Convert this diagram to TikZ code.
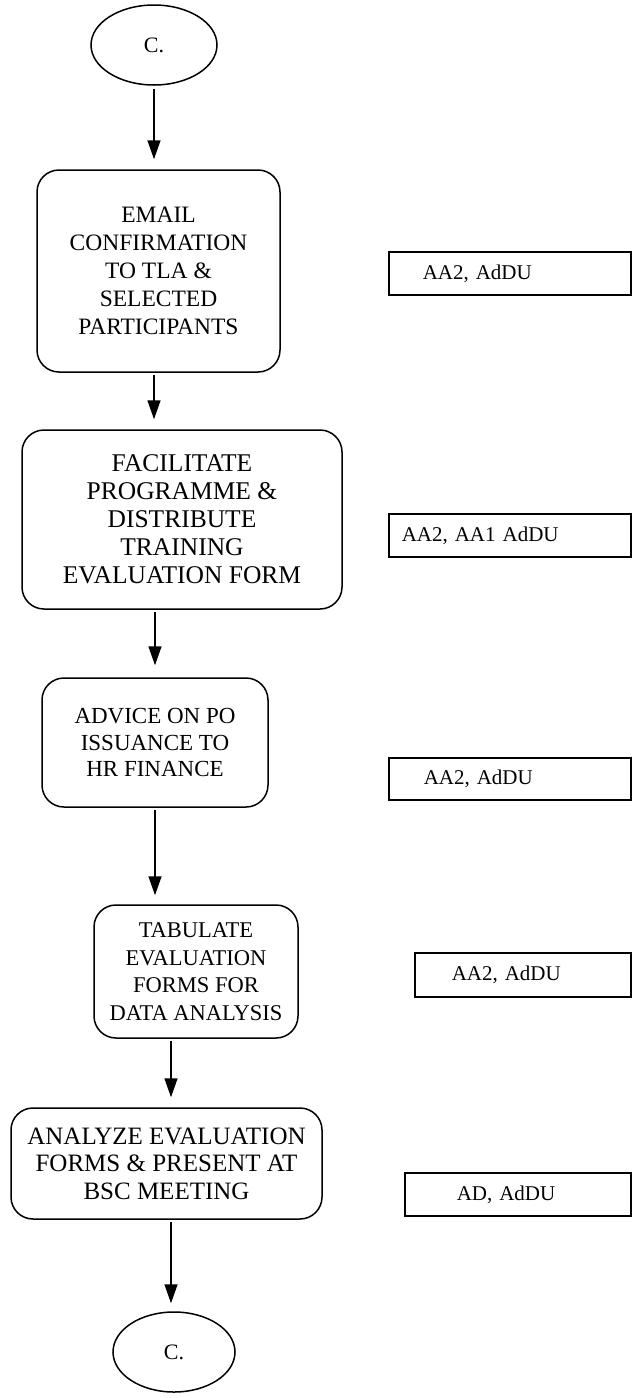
\documentclass[tikz,border=0pt]{standalone}
\usepackage{fontspec}
\setmainfont{Liberation Serif}
\usetikzlibrary{arrows.meta,shapes.geometric}
\newcommand{\fsz}[2]{\fontsize{#1}{#2}\selectfont}
\begin{document}
\begin{tikzpicture}[x=1pt,y=-1pt,
  stepbox/.style={draw, line width=1.5pt, rounded corners=22pt, align=center,
    inner sep=0pt},
  rolebox/.style={draw, line width=1.5pt, inner ysep=0pt, align=left,
    font=\fsz{21}{24}},
  term/.style={draw, ellipse, line width=1.5pt, inner sep=0pt,
    font=\fsz{22}{24}},
  flow/.style={line width=1.5pt, -{Triangle[length=19pt,width=13pt]}}]
\useasboundingbox (0,0) rectangle (632,1398);

% terminators
\node[term, minimum width=126pt, minimum height=80pt] (start) at (154,45) {C.};
\node[term, minimum width=122pt, minimum height=80pt] (stop) at (174,1352) {C.};

% process steps
\node[stepbox, font=\fsz{23.5}{28}, minimum width=243pt, minimum height=202pt] (s1) at (158.5,271)
  {EMAIL\\CONFIRMATION\\TO TLA \&\\SELECTED\\PARTICIPANTS};
\node[stepbox, font=\fsz{25.5}{28}, minimum width=320pt, minimum height=179pt] (s2) at (182,519.5)
  {FACILITATE\\PROGRAMME \&\\DISTRIBUTE\\TRAINING\\EVALUATION FORM};
\node[stepbox, font=\fsz{23}{26.5}, minimum width=226pt, minimum height=129pt] (s3) at (155,742.5)
  {ADVICE ON PO\\ISSUANCE TO\\HR FINANCE};
\node[stepbox, font=\fsz{22.5}{27.5}, minimum width=204pt, minimum height=133pt] (s4) at (196,971.5)
  {TABULATE\\EVALUATION\\FORMS FOR\\DATA ANALYSIS};
\node[stepbox, font=\fsz{25}{27.5}, minimum width=311pt, minimum height=111pt] (s5) at (166.5,1163.5)
  {ANALYZE EVALUATION\\FORMS \& PRESENT AT\\BSC MEETING};

% responsible parties
\node[rolebox, anchor=west, minimum height=43pt, inner xsep=34pt, text width=174pt] (r1) at (388,273.5) {AA2, AdDU};
\node[rolebox, anchor=west, minimum height=43pt, inner xsep=13pt, text width=216pt] (r2) at (388,535.5) {AA2, AA1 AdDU};
\node[rolebox, anchor=west, minimum height=42pt, inner xsep=35pt, text width=172pt] (r3) at (388,779) {AA2, AdDU};
\node[rolebox, anchor=west, minimum height=44pt, inner xsep=37pt, text width=142pt] (r4) at (414,975) {AA2, AdDU};
\node[rolebox, anchor=west, minimum height=43pt, inner xsep=52pt, text width=122pt] (r5) at (404,1194.5) {AD, AdDU};

% connectors
\draw[flow, shorten <=3pt, shorten >=10pt] (start.south) -- (start.south |- s1.north);
\draw[flow, shorten <=2pt, shorten >=10pt] (s1.south -| 154,0) -- (s2.north -| 154,0);
\draw[flow, shorten <=2pt, shorten >=12pt] (s2.south -| 155,0) -- (s3.north -| 155,0);
\draw[flow, shorten <=2pt, shorten >=9pt] (s3.south -| 155,0) -- (s4.north -| 155,0);
\draw[flow, shorten <=2pt, shorten >=10pt] (s4.south -| 171,0) -- (s5.north -| 171,0);
\draw[flow, shorten <=2pt, shorten >=8pt] (s5.south -| 171,0) -- (stop.north -| 171,0);
\end{tikzpicture}
\end{document}
